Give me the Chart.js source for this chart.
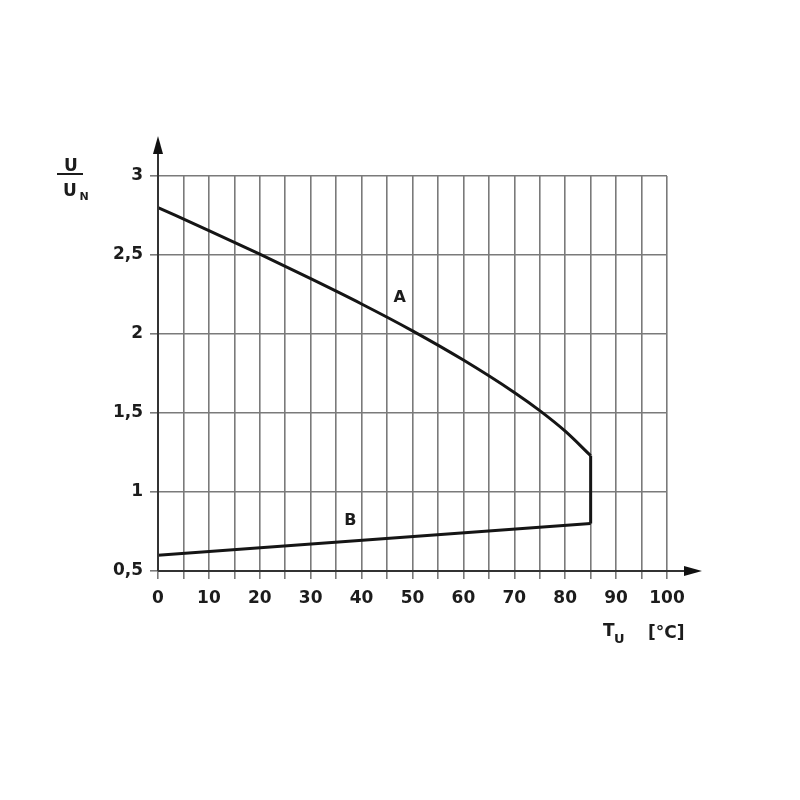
<!DOCTYPE html>
<html>
<head>
<meta charset="utf-8">
<script src="https://cdn.jsdelivr.net/npm/chart.js@4"></script>
<style>
  html, body { margin: 0; padding: 0; background: #fff; }
  #wrap { width: 800px; height: 800px; }
</style>
</head>
<body>
<div id="wrap"><canvas id="chart" width="800" height="800"></canvas></div>
<script>
// curve A (upper limit)
const tempA = [0, 10, 20, 30, 40, 50, 60, 70, 75, 80, 85];
const ratioA = [2.8, 2.655, 2.505, 2.35, 2.19, 2.02, 1.835, 1.63, 1.515, 1.385, 1.23];
// curve B (lower limit)
const tempB = [0, 85];
const ratioB = [0.6, 0.8];
// vertical drop at the max ambient temperature, from A down to B
const tempDrop = [85, 85];
const ratioDrop = [1.23, 0.8];

const yTickLabels = { 0.5: "0,5", 1: "1", 1.5: "1,5", 2: "2", 2.5: "2,5", 3: "3" };
const curveLabels = [
    { text: "A", x: 47.5, y: 2.23 },
    { text: "B", x: 37.8, y: 0.82 }
];

const toPoints = (xs, ys) => xs.map((x, i) => ({ x: x, y: ys[i] }));

const FONT = "'DejaVu Sans', Arial, sans-serif";
const INK = "#1c1c1c";

const decorations = {
    id: "decorations",
    afterDraw(chart) {
        const ctx = chart.ctx;
        const xs = chart.scales.x;
        const ys = chart.scales.y;
        const x0 = xs.getPixelForValue(0);
        const y0 = ys.getPixelForValue(0.5);
        const area = chart.chartArea;
        ctx.save();

        // axes with arrows
        ctx.strokeStyle = "#333";
        ctx.fillStyle = "#111";
        ctx.lineWidth = 2;
        ctx.beginPath();
        ctx.moveTo(x0, y0);
        ctx.lineTo(x0, area.top - 30);
        ctx.moveTo(x0, y0);
        ctx.lineTo(area.right + 25, y0);
        ctx.stroke();
        ctx.beginPath();
        ctx.moveTo(x0, area.top - 40);
        ctx.lineTo(x0 - 5, area.top - 22);
        ctx.lineTo(x0 + 5, area.top - 22);
        ctx.closePath();
        ctx.fill();
        ctx.beginPath();
        ctx.moveTo(area.right + 35, y0);
        ctx.lineTo(area.right + 17, y0 - 5);
        ctx.lineTo(area.right + 17, y0 + 5);
        ctx.closePath();
        ctx.fill();

        // curve names
        ctx.fillStyle = INK;
        ctx.font = "bold 16px " + FONT;
        ctx.textAlign = "center";
        ctx.textBaseline = "middle";
        curveLabels.forEach(l => {
            ctx.fillText(l.text, xs.getPixelForValue(l.x), ys.getPixelForValue(l.y));
        });

        // y title U / U_N
        ctx.font = "bold 17px " + FONT;
        ctx.textAlign = "center";
        ctx.textBaseline = "alphabetic";
        ctx.fillText("U", 71, 171);
        ctx.fillRect(57, 173, 26, 2);
        ctx.fillText("U", 70, 196);
        ctx.font = "bold 11px " + FONT;
        ctx.fillText("N", 84, 200);

        // x title T_U [°C]
        ctx.font = "bold 17px " + FONT;
        ctx.textAlign = "left";
        ctx.fillText("T", 603, 636);
        ctx.font = "bold 13px " + FONT;
        ctx.fillText("U", 614, 643);
        ctx.font = "bold 17px " + FONT;
        ctx.fillText("[°C]", 648, 638);
        ctx.restore();
    }
};

const lineStyle = {
    showLine: true,
    borderColor: "#151515",
    borderWidth: 3,
    pointRadius: 0
};

new Chart(document.getElementById("chart"), {
    type: "scatter",
    data: {
        datasets: [
            { ...lineStyle, label: "A", data: toPoints(tempA, ratioA), cubicInterpolationMode: "monotone" },
            { ...lineStyle, label: "B", data: toPoints(tempB, ratioB) },
            { ...lineStyle, label: "drop", data: toPoints(tempDrop, ratioDrop) }
        ]
    },
    options: {
        responsive: false,
        animation: false,
        layout: { padding: { left: 0, top: 176, right: 133, bottom: 0 } },
        plugins: {
            legend: { display: false },
            tooltip: { enabled: false }
        },
        scales: {
            x: {
                type: "linear",
                min: 0,
                max: 100,
                afterFit: (scale) => { scale.height = 229; },
                border: { display: false },
                grid: { color: "#7a7a7a", lineWidth: 1.6, tickLength: 8, tickColor: "#7a7a7a" },
                ticks: {
                    stepSize: 5,
                    padding: 9,
                    color: INK,
                    font: { family: FONT, size: 17, weight: "bold" },
                    maxRotation: 0,
                    autoSkip: false,
                    callback: (v) => (v % 10 === 0 ? String(v) : "")
                }
            },
            y: {
                type: "linear",
                min: 0.5,
                max: 3,
                afterFit: (scale) => { scale.width = 158; },
                border: { display: false },
                grid: { color: "#7a7a7a", lineWidth: 1.6, tickLength: 8, tickColor: "#7a7a7a" },
                ticks: {
                    stepSize: 0.5,
                    padding: 7,
                    color: INK,
                    font: { family: FONT, size: 17, weight: "bold" },
                    callback: (v) => yTickLabels[v] ?? ""
                }
            }
        }
    },
    plugins: [decorations]
});
</script>
</body>
</html>
